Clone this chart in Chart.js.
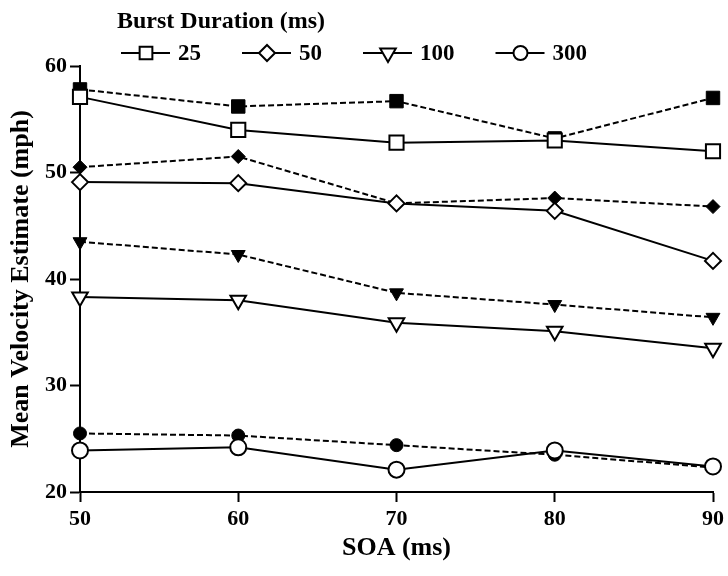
<!DOCTYPE html>
<html>
<head>
<meta charset="utf-8">
<script src="https://cdn.jsdelivr.net/npm/chart.js@4"></script>
<style>
  html, body { margin: 0; padding: 0; background: #fff; }
  #wrap { width: 728px; height: 576px; }
</style>
</head>
<body>
<div id="wrap"><canvas id="chart"></canvas></div>
<script>
// SOA values on the x axis (ms)
const soa = [50, 60, 70, 80, 90];
const durations = ['25', '50', '100', '300'];

// open markers / solid lines
const open25 = [57.1, 54.0, 52.8, 53.0, 52.0];
const open50 = [49.1, 49.0, 47.1, 46.4, 41.7];
const open100 = [38.3, 38.0, 35.9, 35.1, 33.5];
const open300 = [23.9, 24.2, 22.1, 23.9, 22.4];

// filled markers / dashed lines
const filled25 = [57.8, 56.2, 56.7, 53.2, 57.0];
const filled50 = [50.5, 51.5, 47.1, 47.6, 46.8];
const filled100 = [43.5, 42.3, 38.7, 37.6, 36.4];
const filled300 = [25.5, 25.3, 24.4, 23.5, 22.3];

const yTicks = [20, 30, 40, 50, 60];

const toPoints = vals => vals.map((v, i) => ({x: soa[i], y: v}));

function series (label, vals, style, radius, filled, rotation) {
  return {
    label: label,
    data: toPoints(vals),
    borderColor: '#000',
    borderWidth: 2,
    borderDash: filled ? [6, 3] : [],
    pointStyle: style,
    pointRotation: rotation || 0,
    pointRadius: radius,
    pointBorderWidth: filled ? 1 : 2,
    pointBorderColor: '#000',
    pointBackgroundColor: filled ? '#000' : '#fff',
    tension: 0,
    clip: false
  };
}

const legendRadius = [9, 8, 9, 7];

// legend drawn like the original: line + open marker + label
const burstLegend = {
  id: 'burstLegend',
  afterDraw (chart) {
    const ctx = chart.ctx;
    ctx.save();
    ctx.fillStyle = '#000';
    ctx.font = 'bold 24px "Liberation Serif"';
    ctx.textBaseline = 'alphabetic';
    ctx.textAlign = 'left';
    ctx.fillText('Burst Duration (ms)', 117, 28);
    const y = 53;
    let x = 121;
    durations.forEach((d, i) => {
      const ds = chart.data.datasets[i];
      ctx.setLineDash([]);
      ctx.strokeStyle = '#000';
      ctx.lineWidth = 2;
      ctx.beginPath();
      ctx.moveTo(x, y);
      ctx.lineTo(x + 49, y);
      ctx.stroke();
      ctx.fillStyle = '#fff';
      Chart.helpers.drawPoint(ctx, {
        pointStyle: ds.pointStyle,
        rotation: ds.pointRotation,
        radius: legendRadius[i],
        borderWidth: 2
      }, x + 25, y);
      ctx.fillStyle = '#000';
      ctx.font = 'bold 23px "Liberation Serif"';
      ctx.textBaseline = 'middle';
      ctx.fillText(d, x + 57, y + 1);
      x += 57 + ctx.measureText(d).width + 41;
    });
    ctx.restore();
  }
};

Chart.defaults.font.family = '"Liberation Serif", "Times New Roman", serif';
Chart.defaults.font.weight = 'bold';
Chart.defaults.color = '#000';

new Chart(document.getElementById('chart'), {
  type: 'line',
  data: {
    datasets: [
      series('25', open25, 'rect', 10, false),
      series('50', open50, 'rectRot', 8, false),
      series('100', open100, 'triangle', 9, false, 180),
      series('300', open300, 'circle', 8, false),
      series('25 filled', filled25, 'rect', 9.5, true),
      series('50 filled', filled50, 'rectRot', 7, true),
      series('100 filled', filled100, 'triangle', 8, true, 180),
      series('300 filled', filled300, 'circle', 6.5, true)
    ]
  },
  options: {
    responsive: true,
    maintainAspectRatio: false,
    animation: false,
    layout: {padding: {top: 66, right: 11, left: 0, bottom: 0}},
    plugins: {
      legend: {display: false},
      tooltip: {enabled: false}
    },
    scales: {
      x: {
        type: 'linear',
        min: 50,
        max: 90,
        afterFit: scale => { scale.height = 84; },
        afterBuildTicks: scale => { scale.ticks = soa.map(v => ({value: v})); },
        grid: {drawOnChartArea: false, drawTicks: true, tickLength: 10, tickWidth: 2, tickColor: '#000'},
        border: {color: '#000', width: 2},
        ticks: {font: {size: 22, weight: 'bold'}, padding: 4, maxRotation: 0},
        title: {
          display: true,
          text: 'SOA (ms)',
          font: {size: 26, weight: 'bold'},
          padding: {top: 0, bottom: 12}
        }
      },
      y: {
        min: 20,
        max: 60,
        afterFit: scale => { scale.width = 80; },
        afterBuildTicks: scale => { scale.ticks = yTicks.map(v => ({value: v})); },
        grid: {drawOnChartArea: false, drawTicks: true, tickLength: 10, tickWidth: 2, tickColor: '#000'},
        border: {color: '#000', width: 2},
        ticks: {font: {size: 22, weight: 'bold'}, padding: 3},
        title: {
          display: true,
          text: 'Mean Velocity Estimate (mph)',
          font: {size: 26, weight: 'bold'},
          padding: {top: 6, bottom: 0}
        }
      }
    }
  },
  plugins: [burstLegend]
});
</script>
</body>
</html>
